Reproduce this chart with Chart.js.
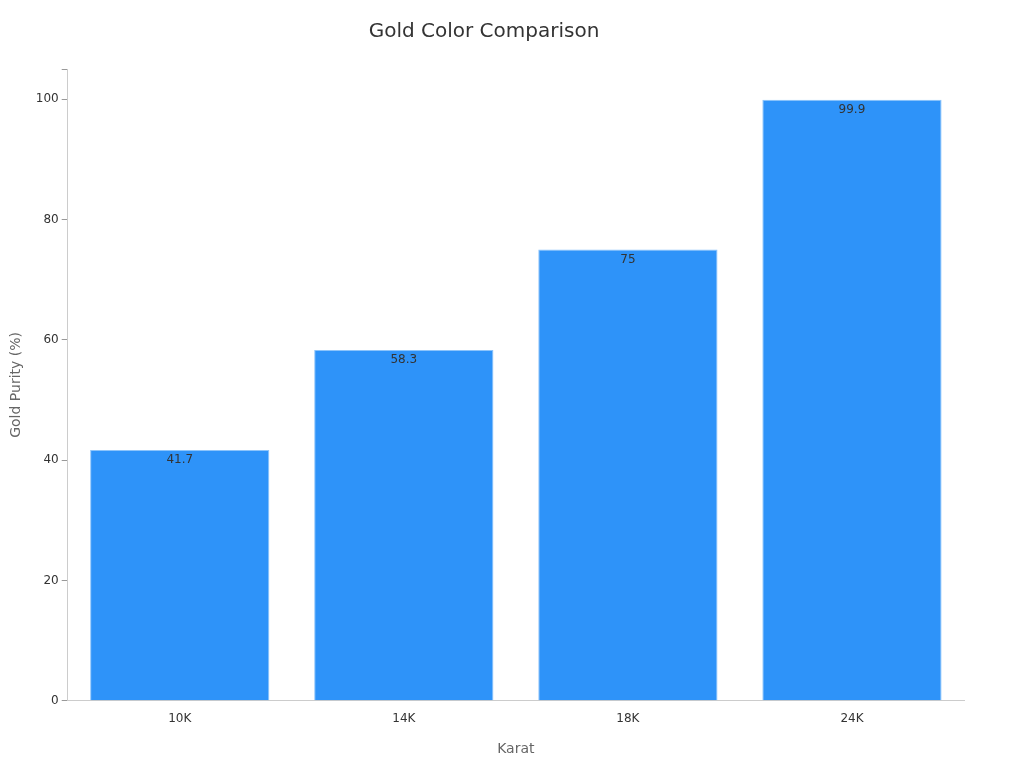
<!DOCTYPE html>
<html><head><meta charset="utf-8">
<script src="https://cdn.jsdelivr.net/npm/chart.js@4"></script>
<style>html,body{margin:0;padding:0;background:#fff}#w{width:1024px;height:768px}</style>
</head><body><div id="w"><canvas id="c"></canvas></div>
<script>
const categories = ["10K","14K","18K","24K"];
const purity = [41.7,58.3,75,99.9];
const labelsText = ["41.7","58.3","75","99.9"];
const F = "'DejaVu Sans', sans-serif";
const valuePlugin = {
  id:'vals',
  afterDatasetsDraw(chart){
    const ctx=chart.ctx, meta=chart.getDatasetMeta(0);
    ctx.save(); ctx.font="12px "+F; ctx.fillStyle="#333"; ctx.textAlign="center"; ctx.textBaseline="top";
    meta.data.forEach((b,i)=>ctx.fillText(labelsText[i], b.x, b.y+4));
    ctx.restore();
  }
};
new Chart(document.getElementById('c'),{
  type:'bar',
  data:{labels:categories,datasets:[{data:purity,backgroundColor:'#2e93f9',borderColor:'#8cc4fb',borderWidth:1,barPercentage:0.8,categoryPercentage:1}]},
  options:{responsive:true,maintainAspectRatio:false,animation:false,
    layout:{padding:{left:4,right:60,top:10,bottom:6}},
    plugins:{legend:{display:false},tooltip:{enabled:false},
      title:{display:true,text:'Gold Color Comparison',color:'#333',font:{family:F,size:20,weight:'normal'},padding:{top:10,bottom:25}}},
    scales:{
      x:{grid:{display:false,drawOnChartArea:false},border:{color:'#ccc'},ticks:{color:'#333',font:{family:F,size:12}},
        title:{display:true,text:'Karat',color:'#666',font:{family:F,size:14},padding:{top:12}}},
      y:{min:0,max:105,grid:{drawOnChartArea:false,tickLength:6,color:'#999'},border:{color:'#ccc'},
        ticks:{stepSize:20,color:'#333',font:{family:F,size:12},callback:v=>v%20===0?v:''},
        title:{display:true,text:'Gold Purity (%)',color:'#666',font:{family:F,size:14},padding:{bottom:8}}}
    }},
  plugins:[valuePlugin]
});
</script></body></html>
